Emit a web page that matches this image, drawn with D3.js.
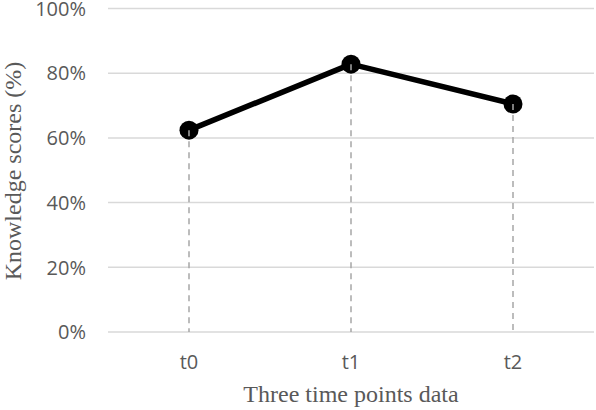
<!DOCTYPE html>
<html>
<head>
<meta charset="utf-8">
<script src="https://cdn.jsdelivr.net/npm/d3@7"></script>
<style>
  body { margin: 0; background: #fff; }
  svg { display: block; }
</style>
</head>
<body>
<div id="chart"></div>
<script>
// Knowledge scores at three time points
const categories = ['t0', 't1', 't2'];
const scores = [62.4, 82.8, 70.5];
const yTicks = [0, 20, 40, 60, 80, 100];

const width = 596, height = 410;
const margin = { top: 8.5, right: 2, bottom: 78, left: 108 };

const svg = d3.select('#chart').append('svg')
  .attr('width', width)
  .attr('height', height);

const x = d3.scaleBand()
  .domain(categories)
  .range([margin.left, width - margin.right]);

const y = d3.scaleLinear()
  .domain([0, 100])
  .range([height - margin.bottom, margin.top]);

// Gridlines
svg.append('g')
  .selectAll('line')
  .data(yTicks)
  .enter()
  .append('line')
  .attr('x1', margin.left)
  .attr('x2', width - margin.right)
  .attr('y1', d => y(d))
  .attr('y2', d => y(d))
  .attr('stroke', '#d9d9d9')
  .attr('stroke-width', 1.5);

// Y tick labels
svg.append('g')
  .selectAll('text')
  .data(yTicks)
  .enter()
  .append('text')
  .attr('x', 86)
  .attr('y', d => y(d))
  .attr('dy', '0.36em')
  .attr('text-anchor', 'end')
  .attr('fill', '#595959')
  .attr('font-family', '"Open Sans", sans-serif')
  .attr('font-size', '20px')
  .text(d => d + '%');

// X tick labels
svg.append('g')
  .selectAll('text')
  .data(categories)
  .enter()
  .append('text')
  .attr('x', d => x(d) + x.bandwidth() / 2)
  .attr('y', 362)
  .attr('dy', '0.36em')
  .attr('text-anchor', 'middle')
  .attr('fill', '#595959')
  .attr('font-family', '"Open Sans", sans-serif')
  .attr('font-size', '20px')
  .text(d => d);

const data = categories.map((c, i) => ({ cat: c, value: scores[i] }));
const cx = d => x(d.cat) + x.bandwidth() / 2;

// Series line
const line = d3.line()
  .x(cx)
  .y(d => y(d.value));

svg.append('path')
  .datum(data)
  .attr('d', line)
  .attr('fill', 'none')
  .attr('stroke', '#000')
  .attr('stroke-width', 5.5)
  .attr('stroke-linejoin', 'round');

// Markers
svg.append('g')
  .selectAll('circle')
  .data(data)
  .enter()
  .append('circle')
  .attr('cx', cx)
  .attr('cy', d => y(d.value))
  .attr('r', 9.5)
  .attr('fill', '#000');

// Drop lines (drawn over the markers, as in the original)
svg.append('g')
  .selectAll('line')
  .data(data)
  .enter()
  .append('line')
  .attr('x1', cx)
  .attr('x2', cx)
  .attr('y1', d => y(d.value))
  .attr('y2', y(0))
  .attr('stroke', '#a6a6a6')
  .attr('stroke-width', 1.5)
  .attr('stroke-dasharray', '6,5');

// Axis titles
svg.append('text')
  .attr('x', x('t1') + x.bandwidth() / 2)
  .attr('y', 394)
  .attr('dy', '0.35em')
  .attr('text-anchor', 'middle')
  .attr('fill', '#595959')
  .attr('font-family', '"Liberation Serif", serif')
  .attr('font-size', '24px')
  .text('Three time points data');

svg.append('text')
  .attr('transform', `translate(13, 171) rotate(-90)`)
  .attr('dy', '0.35em')
  .attr('text-anchor', 'middle')
  .attr('fill', '#595959')
  .attr('font-family', '"Liberation Serif", serif')
  .attr('font-size', '24px')
  .text('Knowledge scores (%)');
</script>
</body>
</html>
